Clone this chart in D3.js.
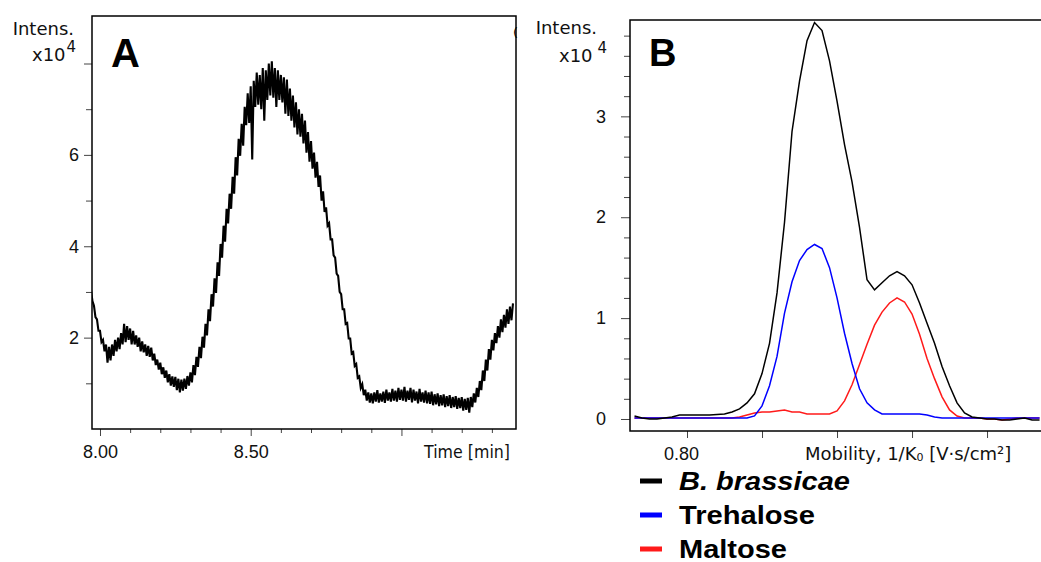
<!DOCTYPE html>
<html>
<head>
<meta charset="utf-8">
<script src="https://cdn.jsdelivr.net/npm/d3@7"></script>
<style>
  body { margin: 0; background: #fff; }
  svg { display: block; font-family: 'DejaVu Sans', sans-serif; }
</style>
</head>
<body>
<svg id="chart" width="1041" height="562"></svg>
<script>
// Panel A: chromatogram, sampled every 0.005 min from 7.97 min (x10^4 intensity)
const timeStart = 7.97
const timeStep = 0.005
const intensityA = [
  3.05, 2.80, 2.70, 2.45, 2.40, 2.15, 2.15, 1.90, 1.95, 1.70,
  1.85, 1.45, 1.80, 1.50, 1.85, 1.60, 1.95, 1.70, 2.00, 1.75,
  2.10, 1.85, 2.30, 1.90, 2.25, 1.95, 2.20, 1.85, 2.15, 1.85,
  2.05, 1.80, 2.00, 1.70, 1.92, 1.68, 1.85, 1.60, 1.82, 1.58,
  1.78, 1.50, 1.65, 1.40, 1.52, 1.30, 1.45, 1.20, 1.35, 1.12,
  1.28, 1.02, 1.20, 0.95, 1.15, 0.92, 1.14, 0.85, 1.10, 0.80,
  1.08, 0.84, 1.10, 0.88, 1.16, 0.95, 1.24, 1.02, 1.40, 1.18,
  1.58, 1.36, 1.80, 1.55, 2.02, 1.78, 2.30, 2.05, 2.62, 2.36,
  2.95, 2.68, 3.30, 2.98, 3.65, 3.35, 4.05, 3.75, 4.45, 4.10,
  4.82, 4.50, 5.15, 4.82, 5.52, 5.15, 5.95, 5.55, 6.35, 5.98,
  6.68, 6.20, 7.05, 6.65, 7.35, 6.70, 7.50, 5.90, 7.62, 7.05,
  7.80, 7.10, 7.75, 7.00, 7.90, 6.75, 7.85, 7.20, 8.00, 7.30,
  8.05, 7.25, 7.90, 7.05, 7.85, 7.20, 7.75, 7.15, 7.70, 6.90,
  7.65, 6.85, 7.45, 6.75, 7.30, 6.60, 7.15, 6.45, 7.00, 6.40,
  6.90, 6.25, 6.75, 6.05, 6.50, 5.85, 6.30, 5.70, 6.05, 5.50,
  5.85, 5.30, 5.55, 5.00, 5.20, 4.75, 4.85, 4.45, 4.50, 4.15,
  4.15, 3.80, 3.75, 3.40, 3.35, 3.00, 2.95, 2.62, 2.62, 2.30,
  2.32, 1.98, 1.98, 1.65, 1.68, 1.38, 1.42, 1.12, 1.15, 0.90,
  0.98, 0.74, 0.86, 0.62, 0.80, 0.58, 0.78, 0.56, 0.80, 0.60,
  0.85, 0.58, 0.78, 0.60, 0.82, 0.57, 0.86, 0.62, 0.80, 0.60,
  0.88, 0.62, 0.84, 0.60, 0.90, 0.64, 0.86, 0.62, 0.92, 0.60,
  0.84, 0.64, 0.90, 0.58, 0.86, 0.62, 0.82, 0.56, 0.88, 0.60,
  0.80, 0.58, 0.84, 0.56, 0.80, 0.55, 0.82, 0.52, 0.76, 0.54,
  0.78, 0.50, 0.74, 0.52, 0.76, 0.48, 0.72, 0.50, 0.74, 0.46,
  0.70, 0.48, 0.72, 0.44, 0.68, 0.46, 0.70, 0.40, 0.66, 0.42,
  0.68, 0.36, 0.70, 0.48, 0.78, 0.58, 0.90, 0.70, 1.05, 0.85,
  1.28, 1.05, 1.52, 1.28, 1.75, 1.52, 1.95, 1.72, 2.10, 1.88,
  2.25, 2.00, 2.40, 2.12, 2.50, 2.22, 2.62, 2.30, 2.68, 2.38,
  2.75
]
const timeMajor = [8.0, 8.5, 9.0]
const timeMajorLabels = ['8.00', '8.50', '']
const timeMinor = [8.1, 8.2, 8.3, 8.4, 8.6, 8.7, 8.8, 8.9, 9.1, 9.2, 9.3]
const intensAMajor = [2, 4, 6, 8]
const intensAMajorLabels = ['2', '4', '6', '']
const intensAMinor = [1, 3, 5, 7]

// Panel B: mobilograms, sampled every 0.005 from 0.765 (x10^4 intensity)
const mobilityStart = 0.765
const mobilityStep = 0.005
const brassicae = [
  0.03, 0.01, 0.00, 0.00, 0.01, 0.02, 0.04, 0.04, 0.04, 0.04,
  0.04, 0.045, 0.05, 0.07, 0.10, 0.16, 0.25, 0.45, 0.75, 1.25,
  1.95, 2.85, 3.35, 3.75, 3.93, 3.85, 3.55, 3.15, 2.72, 2.35,
  1.90, 1.38, 1.28, 1.35, 1.42, 1.46, 1.42, 1.33, 1.15, 0.95,
  0.75, 0.52, 0.33, 0.16, 0.06, 0.02, 0.01, 0.00, 0.00, -0.01,
  -0.01, 0.00, 0.01, -0.01, -0.01
]
const trehalose = [
  0.01, 0.01, 0.01, 0.01, 0.01, 0.01, 0.01, 0.01, 0.01, 0.01,
  0.01, 0.01, 0.01, 0.01, 0.01, 0.01, 0.03, 0.13, 0.33, 0.62,
  1.05, 1.36, 1.57, 1.68, 1.73, 1.69, 1.50, 1.20, 0.85, 0.55,
  0.30, 0.16, 0.09, 0.05, 0.05, 0.05, 0.05, 0.05, 0.05, 0.04,
  0.02, 0.01, 0.01, 0.01, 0.01, 0.01, 0.01, 0.01, 0.01, 0.01,
  0.01, 0.01, 0.01, 0.01, 0.01
]
const maltose = [
  0.01, 0.01, 0.01, 0.01, 0.01, 0.01, 0.01, 0.01, 0.01, 0.01,
  0.01, 0.01, 0.01, 0.01, 0.02, 0.04, 0.06, 0.07, 0.07, 0.08,
  0.09, 0.07, 0.07, 0.05, 0.05, 0.05, 0.05, 0.08, 0.18, 0.34,
  0.54, 0.74, 0.93, 1.06, 1.15, 1.20, 1.16, 1.04, 0.84, 0.60,
  0.40, 0.22, 0.09, 0.03, 0.01, 0.01, 0.01, 0.00, 0.00, -0.01,
  0.00, 0.01, 0.01, 0.01, 0.01
]
const mobilityTicks = [0.80, 0.85, 0.90, 0.95, 1.00]
const mobilityLabels = ['0.80', '', '', '', '']
const intensBMajor = [0, 1, 2, 3]
const intensBMinor = [0.2, 0.4, 0.6, 0.8, 1.2, 1.4, 1.6, 1.8, 2.2, 2.4, 2.6, 2.8, 3.2, 3.4, 3.6, 3.8]

const seriesNames = ['B. brassicae', 'Trehalose', 'Maltose']
const seriesColors = ['#000000', '#0000ff', '#ff1a1a']

window.addEventListener('DOMContentLoaded', init)

function init () {
  const svg = d3.select('#chart')
  buildPanelA(svg)
  buildPanelB(svg)
  buildLegend(svg)
}

function styleTicks (g, color) {
  g.select('.domain').remove()
  g.selectAll('.tick line').attr('stroke', color)
  g.selectAll('.tick text').attr('fill', '#111').style('font-size', '18px')
}

function buildPanelA (svg) {
  const box = { left: 92, top: 16, right: 516, bottom: 429 }
  const x = d3.scaleLinear().domain([7.9735, 9.38]).range([box.left, box.right])
  const y = d3.scaleLinear().domain([0, 9.04]).range([box.bottom, box.top])

  svg.append('clipPath').attr('id', 'clipA')
    .append('rect')
    .attr('x', box.left).attr('y', box.top)
    .attr('width', box.right - box.left).attr('height', box.bottom - box.top)

  // axes
  svg.append('g').attr('transform', `translate(0,${box.bottom})`)
    .call(d3.axisBottom(x).tickValues(timeMinor).tickSize(4).tickFormat(''))
    .call(g => styleTicks(g, '#444'))
  svg.append('g').attr('transform', `translate(0,${box.bottom})`)
    .call(d3.axisBottom(x).tickValues(timeMajor).tickSize(7).tickPadding(9)
      .tickFormat((d, i) => timeMajorLabels[i]))
    .call(g => styleTicks(g, '#444'))
  svg.append('g').attr('transform', `translate(${box.left},0)`)
    .call(d3.axisLeft(y).tickValues(intensAMinor).tickSize(6).tickFormat(''))
    .call(g => styleTicks(g, '#444'))
  svg.append('g').attr('transform', `translate(${box.left},0)`)
    .call(d3.axisLeft(y).tickValues(intensAMajor).tickSize(8).tickPadding(5)
      .tickFormat((d, i) => intensAMajorLabels[i]))
    .call(g => styleTicks(g, '#444'))

  // trace
  const line = d3.line()
    .x((d, i) => x(timeStart + i * timeStep))
    .y(d => y(d))
  svg.append('path')
    .datum(intensityA)
    .attr('clip-path', 'url(#clipA)')
    .attr('fill', 'none')
    .attr('stroke', '#000')
    .attr('stroke-width', 2.1)
    .attr('stroke-linejoin', 'miter')
    .attr('d', line)

  // frame
  svg.append('rect')
    .attr('x', box.left).attr('y', box.top)
    .attr('width', box.right - box.left).attr('height', box.bottom - box.top)
    .attr('fill', 'none').attr('stroke', '#000').attr('stroke-width', 1.5)

  // labels
  svg.append('text').attr('x', 74).attr('y', 35).attr('text-anchor', 'end')
    .style('font-size', '18px').attr('fill', '#111').text('Intens.')
  const exp = svg.append('text').attr('x', 32).attr('y', 61)
    .style('font-size', '18px').attr('fill', '#111')
  exp.append('tspan').text('x10')
  exp.append('tspan').attr('dy', -9).attr('dx', 1).style('font-size', '15px').text('4')
  svg.append('text').attr('x', 111).attr('y', 67)
    .style('font-family', "'Liberation Sans', Arial, sans-serif")
    .style('font-size', '40px').style('font-weight', 'bold').text('A')
  svg.append('text').attr('x', 510).attr('y', 458).attr('text-anchor', 'end')
    .attr('textLength', 86).attr('lengthAdjust', 'spacingAndGlyphs')
    .style('font-size', '18px').attr('fill', '#111').text('Time [min]')
  svg.append('text').attr('x', 513).attr('y', 37)
    .style('font-size', '13px').attr('fill', '#000').text('(')
}

function buildPanelB (svg) {
  const box = { left: 630, top: 20, right: 1043, bottom: 431 }
  const x = d3.scaleLinear().domain([0.762, 1.0373]).range([box.left, box.right])
  const y = d3.scaleLinear().domain([-0.119, 3.955]).range([box.bottom, box.top])

  svg.append('clipPath').attr('id', 'clipB')
    .append('rect')
    .attr('x', box.left).attr('y', box.top)
    .attr('width', box.right - box.left).attr('height', box.bottom - box.top)

  svg.append('g').attr('transform', `translate(0,${box.bottom})`)
    .call(d3.axisBottom(x).tickValues(mobilityTicks).tickSize(7).tickPadding(9)
      .tickFormat((d, i) => mobilityLabels[i]))
    .call(g => styleTicks(g, '#444'))
    .call(g => g.selectAll('.tick text').attr('dx', -6))
  svg.append('g').attr('transform', `translate(${box.left},0)`)
    .call(d3.axisLeft(y).tickValues(intensBMinor).tickSize(6).tickFormat(''))
    .call(g => styleTicks(g, '#444'))
  svg.append('g').attr('transform', `translate(${box.left},0)`)
    .call(d3.axisLeft(y).tickValues(intensBMajor).tickSize(9).tickPadding(15)
      .tickFormat(d3.format('d')))
    .call(g => styleTicks(g, '#444'))

  const line = d3.line()
    .x((d, i) => x(mobilityStart + i * mobilityStep))
    .y(d => y(d))
  const series = [brassicae, trehalose, maltose]
  svg.append('g').attr('clip-path', 'url(#clipB)')
    .selectAll('path')
    .data([series[2], series[1], series[0]])
    .join('path')
    .attr('fill', 'none')
    .attr('stroke', (d, i) => seriesColors[2 - i])
    .attr('stroke-width', 1.5)
    .attr('d', line)

  svg.append('rect')
    .attr('x', box.left).attr('y', box.top)
    .attr('width', box.right - box.left).attr('height', box.bottom - box.top)
    .attr('fill', 'none').attr('stroke', '#000').attr('stroke-width', 1.5)

  svg.append('text').attr('x', 597).attr('y', 34).attr('text-anchor', 'end')
    .style('font-size', '18px').attr('fill', '#111').text('Intens.')
  const exp = svg.append('text').attr('x', 559).attr('y', 62)
    .style('font-size', '18px').attr('fill', '#111')
  exp.append('tspan').text('x10')
  exp.append('tspan').attr('dy', -9).attr('dx', 5).style('font-size', '15px').text('4')
  svg.append('text').attr('x', 649).attr('y', 66)
    .style('font-family', "'Liberation Sans', Arial, sans-serif")
    .style('font-size', '38px').style('font-weight', 'bold').text('B')

  const mob = svg.append('text').attr('x', 805).attr('y', 460)
    .style('font-size', '18px').attr('fill', '#111')
  mob.append('tspan').text('Mobility, 1/K')
  mob.append('tspan').style('font-size', '11px').attr('dy', 1).text('0')
  mob.append('tspan').attr('dy', -1).text(' [V\u00B7s/cm\u00B2]')
}

function buildLegend (svg) {
  const widths = [171, 136, 108]
  const item = svg.append('g').selectAll('g')
    .data(seriesNames)
    .join('g')
    .attr('transform', (d, i) => `translate(640,${481 + i * 34})`)
  item.append('rect')
    .attr('x', 0).attr('y', -2.5).attr('width', 22).attr('height', 5)
    .attr('fill', (d, i) => seriesColors[i])
  item.append('text')
    .attr('x', 39).attr('y', 9)
    .attr('textLength', (d, i) => widths[i])
    .attr('lengthAdjust', 'spacingAndGlyphs')
    .style('font-family', "'Liberation Sans', Arial, sans-serif")
    .style('font-size', '25px').style('font-weight', 'bold')
    .style('font-style', (d, i) => i === 0 ? 'italic' : 'normal')
    .text(d => d)
}
</script>
</body>
</html>
